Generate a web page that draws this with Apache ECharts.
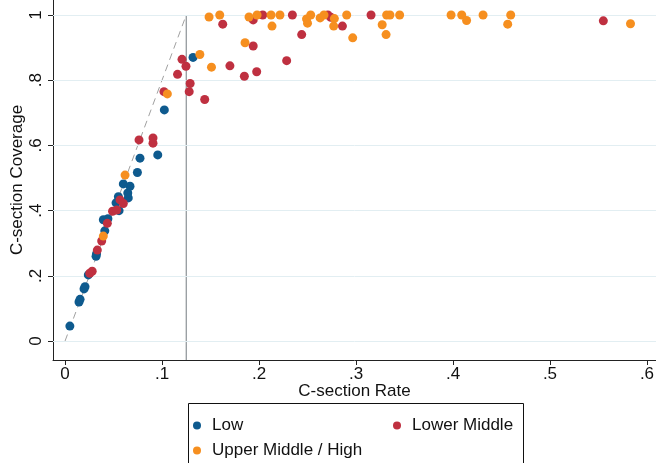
<!DOCTYPE html>
<html>
<head>
<meta charset="utf-8">
<script src="https://cdn.jsdelivr.net/npm/echarts@6/dist/echarts.min.js"></script>
<style>html,body{margin:0;padding:0;background:#fff}#c{width:656px;height:463px}</style>
</head>
<body>
<div id="c"></div>
<script>
// ---- data ----
const seriesNames = ['Low', 'Lower Middle', 'Upper Middle / High'];
const lowData = [
  [0.005,0.046],[0.0144,0.120],[0.0155,0.128],[0.0196,0.160],[0.0206,0.167],[0.024,0.203],
  [0.032,0.260],[0.0325,0.268],[0.041,0.338],[0.0395,0.372],[0.0442,0.375],[0.0526,0.424],
  [0.0557,0.400],[0.055,0.443],[0.0652,0.439],[0.0647,0.454],[0.0670,0.475],[0.0601,0.482],
  [0.0746,0.517],[0.0773,0.561],[0.0956,0.571],[0.1024,0.709],[0.132,0.870]
];
const lowerMiddleData = [
  [0.0255,0.208],[0.028,0.214],[0.0333,0.279],[0.0378,0.307],[0.0436,0.361],[0.049,0.398],
  [0.0533,0.402],[0.0567,0.433],[0.0601,0.422],[0.0763,0.617],[0.0907,0.623],[0.0907,0.607],
  [0.102,0.765],[0.116,0.818],[0.1206,0.864],[0.1247,0.843],[0.129,0.790],[0.128,0.765],
  [0.144,0.741],[0.1626,0.972],[0.170,0.844],[0.1849,0.812],[0.194,0.985],[0.194,0.905],
  [0.1976,0.826],[0.2038,1.0],[0.2344,1.0],[0.244,0.940],[0.2285,0.860],[0.271,1.0],
  [0.274,0.993],[0.286,0.966],[0.3155,1.0],[0.555,0.982]
];
const upperHighData = [
  [0.0395,0.322],[0.0619,0.509],[0.1055,0.758],[0.139,0.879],[0.151,0.840],[0.1485,0.994],
  [0.1595,1.0],[0.1856,0.915],[0.1897,0.994],[0.198,1.0],[0.2124,1.0],[0.2134,0.966],
  [0.2216,1.0],[0.249,0.988],[0.250,0.975],[0.2533,1.0],[0.263,0.991],[0.267,1.0],
  [0.2777,0.989],[0.277,0.966],[0.2904,1.0],[0.2966,0.930],[0.327,0.970],[0.331,0.940],
  [0.3316,1.0],[0.335,1.0],[0.345,1.0],[0.398,1.0],[0.409,1.0],[0.414,0.983],
  [0.431,1.0],[0.4595,1.0],[0.4564,0.972],[0.583,0.973]
];
const refLine = [[0, 0], [0.125, 1]];
const cutoffRate = 0.125;
const xTicks = [0, 0.1, 0.2, 0.3, 0.4, 0.5, 0.6];
const xTickLabels = ['0', '.1', '.2', '.3', '.4', '.5', '.6'];
const yTicks = [0, 0.2, 0.4, 0.6, 0.8, 1];
const yTickLabels = ['0', '.2', '.4', '.6', '.8', '1'];
const xTitle = 'C-section Rate';
const yTitle = 'C-section Coverage';

// ---- chart ----
const X_MIN = -0.0124, X_MAX = 0.6093, Y_MIN = -0.058, Y_MAX = 1.046;
const colors = ['#0e5a8e', '#bf3040', '#f68f1f'];
const font = '"Liberation Sans", Arial, sans-serif';
const FS = 17;
const lab = (ticks, labels) => v => {
  const i = ticks.findIndex(t => Math.abs(t - v) < 1e-9);
  return i >= 0 ? labels[i] : '';
};
const chart = echarts.init(document.getElementById('c'), null, {renderer: 'canvas'});
const scatterCommon = {type: 'scatter', symbol: 'circle', symbolSize: 9, z: 5,
  itemStyle: {opacity: 1}, emphasis: {disabled: true}};
const legendCommon = {
  orient: 'vertical', itemWidth: 8, itemHeight: 8, itemGap: 8, icon: 'circle', padding: 0,
  textStyle: {fontFamily: font, fontSize: FS, color: '#111', padding: [0, 0, 0, 6]},
  selectedMode: false
};
chart.setOption({
  animation: false,
  color: colors,
  grid: {left: 53, right: 0, top: 0, bottom: 103, containLabel: false, outerBoundsMode: 'none'},
  xAxis: {
    type: 'value', min: X_MIN, max: X_MAX,
    name: xTitle, nameLocation: 'middle', nameGap: 23, nameMoveOverlap: false,
    nameTextStyle: {fontFamily: font, fontSize: FS, color: '#111'},
    axisLine: {show: true, onZero: false, lineStyle: {color: '#222', width: 1}},
    axisTick: {show: true, length: 5, customValues: xTicks, lineStyle: {color: '#222'}},
    axisLabel: {customValues: xTicks, formatter: lab(xTicks, xTickLabels), margin: 6,
      fontFamily: font, fontSize: FS, color: '#111'},
    splitLine: {show: false}
  },
  yAxis: {
    type: 'value', min: Y_MIN, max: Y_MAX,
    name: yTitle, nameLocation: 'middle', nameGap: 27, nameRotate: 90, nameMoveOverlap: false,
    nameTextStyle: {fontFamily: font, fontSize: FS, color: '#111'},
    axisLine: {show: true, onZero: false, lineStyle: {color: '#222', width: 1}},
    axisTick: {show: true, length: 5, customValues: yTicks, lineStyle: {color: '#222'}},
    axisLabel: {customValues: yTicks, formatter: lab(yTicks, yTickLabels), rotate: 90, margin: 8,
      fontFamily: font, fontSize: FS, color: '#111'},
    splitLine: {show: false}
  },
  legend: [
    Object.assign({}, legendCommon, {left: 193, top: 417, data: [seriesNames[0], seriesNames[2]]}),
    Object.assign({}, legendCommon, {left: 393, top: 417, data: [seriesNames[1]]})
  ],
  graphic: [{type: 'rect', shape: {x: 188.5, y: 403.5, width: 335, height: 70},
    style: {fill: 'none', stroke: '#111', lineWidth: 1}, silent: true}],
  series: [
    {type: 'line', name: 'grid', data: [], silent: true, z: 1,
      markLine: {silent: true, symbol: ['none', 'none'], label: {show: false},
        lineStyle: {color: '#e2eef2', width: 1, type: 'solid'},
        data: yTicks.map(v => ({yAxis: v}))}},
    {type: 'line', name: 'diag', data: refLine, symbol: 'none', silent: true, z: 2,
      lineStyle: {color: '#a0a0a0', width: 1, type: [7, 5]}},
    {type: 'line', name: 'cut', data: [[cutoffRate, Y_MIN], [cutoffRate, 1]], symbol: 'none', silent: true, z: 2,
      lineStyle: {color: '#8c9196', width: 1.2, type: 'solid'}},
    Object.assign({}, scatterCommon, {name: seriesNames[0], data: lowData}),
    Object.assign({}, scatterCommon, {name: seriesNames[1], data: lowerMiddleData}),
    Object.assign({}, scatterCommon, {name: seriesNames[2], data: upperHighData})
  ]
});
</script>
</body>
</html>
